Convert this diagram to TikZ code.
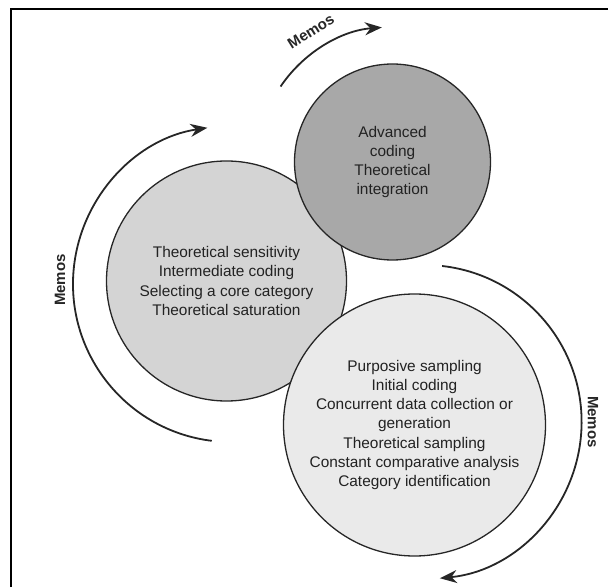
\documentclass[tikz,border=0pt]{standalone}
\usepackage{fontspec}
\setmainfont{Liberation Sans}
\usetikzlibrary{arrows.meta,calc}
\definecolor{darkfill}{HTML}{A8A8A8}
\definecolor{midfill}{HTML}{D4D4D4}
\definecolor{lightfill}{HTML}{EAEAEA}
\definecolor{ink}{HTML}{222222}

\begin{document}
\begin{tikzpicture}[x=1pt,y=1pt,
  stage/.style={circle, draw=black!85, line width=1.3pt, inner sep=0pt,
    align=center, text=ink, font=\fontsize{15.4}{19.1}\selectfont},
  memo/.style={line width=1.8pt, draw=black!85,
    -{Stealth[length=17pt,width=13pt,inset=5.5pt]}},
  memolabel/.style={font=\bfseries\fontsize{15}{17}\selectfont,
    text=black!85, inner sep=0pt}]
\useasboundingbox (0,0) rectangle (608,587);

% frame edges (top and left)
\draw[line width=2.8pt] (11,0) -- (11,578) -- (608,578);

% the three stages
\node[stage, fill=midfill, minimum size=240pt] (mid) at (226.5,306)
  {Theoretical sensitivity\\Intermediate coding\\Selecting a core category\\Theoretical saturation};
\node[stage, fill=lightfill, minimum size=262pt] (low) at (414.5,162)
  {Purposive sampling\\Initial coding\\Concurrent data collection or\\generation\\Theoretical sampling\\Constant comparative analysis\\Category identification};
\node[stage, fill=darkfill, minimum size=196pt] (top) at (392.5,425)
  {Advanced\\coding\\Theoretical\\integration};

% memo arrows around the stages
\coordinate (tc) at (top.center);
\coordinate (ta) at ($(tc)+(146:135)$);
\draw[memo] (ta) arc[start angle=146, end angle=94.5, radius=135];
\node[memolabel, rotate=32] (tl) at ($(tc)+(122:154)$) {Memos};

\coordinate (lc) at (231,303);
\coordinate (la) at ($(lc)+(263:158)$);
\draw[memo] (la) arc[start angle=263, end angle=98.6, radius=158];
\node[memolabel, rotate=90] (ll) at (60,307) {Memos};

\coordinate (rc) at (424.6,165);
\coordinate (ra) at ($(rc)+(83.6:157)$);
\draw[memo] (ra) arc[start angle=83.6, end angle=-84.4, radius=157];
\node[memolabel, rotate=-90] (rl) at (593,165) {Memos};
\end{tikzpicture}
\end{document}
